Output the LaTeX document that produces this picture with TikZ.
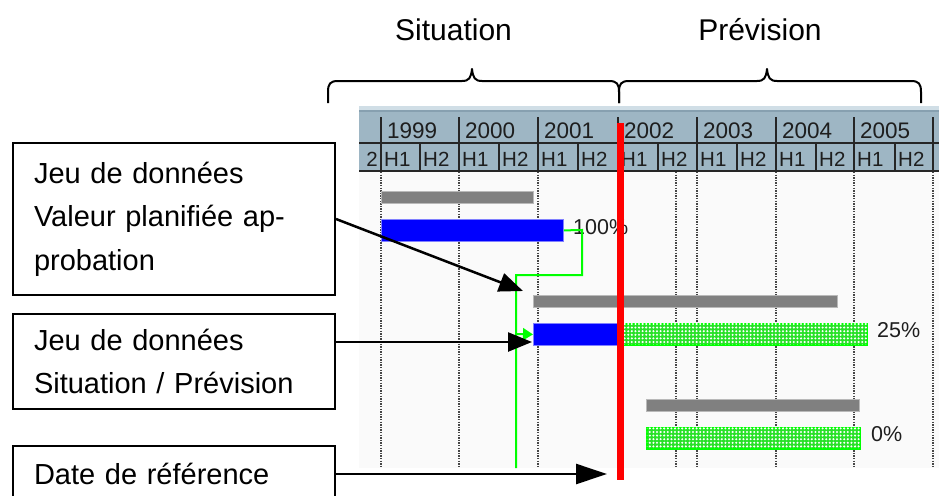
\documentclass[tikz,border=0pt]{standalone}
\usepackage{fontspec}
\setmainfont{Liberation Sans}
\usetikzlibrary{arrows.meta,patterns}
\pgfdeclarepatternformonly{whitedots}{\pgfpoint{-1pt}{-1pt}}{\pgfpoint{5pt}{5pt}}{\pgfpoint{3.6pt}{3.6pt}}
{\pgfpathcircle{\pgfpoint{1.8pt}{1.8pt}}{1.15pt}\pgfusepath{fill}}
\definecolor{hdr}{RGB}{158,182,196}
\definecolor{hdrtop}{RGB}{208,222,230}
\definecolor{hdrmid}{RGB}{135,160,176}
\definecolor{gbar}{RGB}{128,128,128}
\definecolor{bbar}{RGB}{0,0,255}
\definecolor{bbord}{RGB}{128,128,255}
\definecolor{lgreen}{RGB}{0,255,0}
\definecolor{hgreen}{RGB}{40,225,40}
\definecolor{chartbg}{RGB}{250,250,250}
\definecolor{txtdark}{RGB}{30,30,30}
\begin{document}
\begin{tikzpicture}[x=1pt,y=-1pt,
  box/.style={draw=black, line width=2pt, rectangle, anchor=north west,
    minimum width=322pt, inner xsep=21pt, inner ysep=0pt, text width=280pt,
    align=left, font=\fontsize{29}{43.5}\selectfont},
  title/.style={anchor=base, font=\fontsize{30}{30}\selectfont},
  yearlbl/.style={anchor=base west, inner sep=0pt, text=txtdark, font=\fontsize{22.5}{22.5}\selectfont},
  hlbl/.style={anchor=base west, inner sep=0pt, text=txtdark, font=\fontsize{20.5}{20.5}\selectfont},
  pct/.style={anchor=base west, inner sep=0pt, text=txtdark, font=\fontsize{21.5}{21.5}\selectfont},
  graybar/.style={rectangle, anchor=north west, inner sep=0pt, fill=gbar, draw=gray!55, line width=0.6pt},
  bluebar/.style={rectangle, anchor=north west, inner sep=0pt, fill=bbar, draw=bbord, line width=0.8pt},
  hatchbar/.style={rectangle, anchor=north west, inner sep=0pt, draw=lgreen, line width=1.5pt,
    fill=hgreen, postaction={pattern=whitedots, pattern color=white}},
  dotline/.style={draw=gray!55!black, line width=1.3pt, dash pattern=on 1.3pt off 1.3pt},
  divline/.style={draw=black!85, line width=1.5pt},
  link/.style={draw=lgreen, line width=2pt},
  arr/.style={draw=black, line width=2.5pt, -{Triangle[length=24pt,width=19pt]}},
  bigarr/.style={draw=black, line width=2.5pt, -{Triangle[length=31pt,width=20pt]}},
  bracepath/.style={draw=black, line width=2pt, line join=round}
]
\useasboundingbox (0,0) rectangle (939,495);
\clip (0,0) rectangle (939,495);

% chart background
\fill[chartbg] (359,106) rectangle (939,468);

% header
\fill[hdr] (359,106) rectangle (939,171);
\fill[hdrtop] (359,106) rectangle (939,110);
\draw[hdrmid, line width=1.2pt] (359,111) -- (939,111);
\draw[divline] (359,143) -- (939,143);
\draw[divline] (359,171) -- (939,171);
\foreach \x in {381,459,538,618,697,776,854,933}
  \draw[divline] (\x,117) -- (\x,171);
\foreach \x in {420,499,578,658,737,816,895}
  \draw[divline] (\x,143) -- (\x,171);
\foreach \x/\yr in {381/1999,459/2000,538/2001,618/2002,697/2003,776/2004,854/2005}
  \node[yearlbl] (y\yr) at (\x+6,138.5) {\yr};
\foreach \x/\h [count=\i] in {381/H1,420/H2,459/H1,499/H2,538/H1,578/H2,618/H1,658/H2,697/H1,737/H2,776/H1,816/H2,854/H1,895/H2}
  \node[hlbl] (h\i) at (\x+3,166) {\h};
\node[hlbl, anchor=base east] (h0) at (378,166) {2};

% dotted grid lines
\foreach \x in {381,459,538,618,676,697,776,854,933}
  \draw[dotline] (\x,172) -- (\x,468);

% bars
\node[graybar, minimum width=152pt, minimum height=12pt] (gb1) at (381,191) {};
\node[bluebar, minimum width=182pt, minimum height=22pt] (bb1) at (381,219) {};
\node[graybar, minimum width=304pt, minimum height=12pt] (gb2) at (533,295) {};
\node[bluebar, minimum width=85pt, minimum height=22pt] (bb2) at (533,323) {};
\node[hatchbar, minimum width=248pt, minimum height=21pt] (hb2) at (618,323) {};
\node[graybar, minimum width=213pt, minimum height=12pt] (gb3) at (646,399) {};
\node[hatchbar, minimum width=213pt, minimum height=21pt] (hb3) at (646,427) {};

\node[pct] (p1) at (573,234) {100\%};
\node[pct] (p2) at (877,337) {25\%};
\node[pct] (p3) at (871,441) {0\%};

% green link
\draw[link] (bb1.east) -- (582,230) -- (582,275) -- (516,275) -- (516,468);
\draw[link, -{Triangle[length=10pt,width=12pt]}] (516,334) -- (bb2.west);

% reference date line
\coordinate (rtop) at (620.5,123);
\coordinate (rbot) at (620.5,480);
\draw[red, line width=6.5pt] (rtop) -- (rbot);

% braces
\draw[bracepath] (328,103) -- (328,92) .. controls (328,84) and (330,81) .. (338,81)
  -- (462,81) .. controls (469,81) and (471,78) .. (472,69)
  .. controls (473,78) and (475,81) .. (482,81)
  -- (609,81) .. controls (617,81) and (619,84) .. (619,92) -- (619,103);
\draw[bracepath] (619,103) -- (619,92) .. controls (619,84) and (621,81) .. (629,81)
  -- (757,81) .. controls (764,81) and (766,78) .. (767,69)
  .. controls (768,78) and (770,81) .. (777,81)
  -- (911,81) .. controls (919,81) and (921,84) .. (921,92) -- (921,103);

\node[title] (sit) at (453.5,41) {Situation};
\node[title] (prev) at (760,41) {Prévision};

% boxes
\node[box, minimum height=152pt] (box1) at (12,142) {Jeu de données\\Valeur planifiée ap-\\probation};
\node[box, minimum height=95pt] (box2) at (12,313) {Jeu de données\\Situation / Prévision};
\node[box, minimum height=55pt] (box3) at (12,445) {Date de référence};

% arrows
\coordinate (t1) at (523,291);
\coordinate (t2) at (532,342);
\coordinate (t3) at (607,474);
\draw[arr] (box1.east) -- (t1);
\draw[arr] (box2.east |- t2) -- (t2);
\draw[bigarr] (box3.east |- t3) -- (t3);
\end{tikzpicture}
\end{document}
